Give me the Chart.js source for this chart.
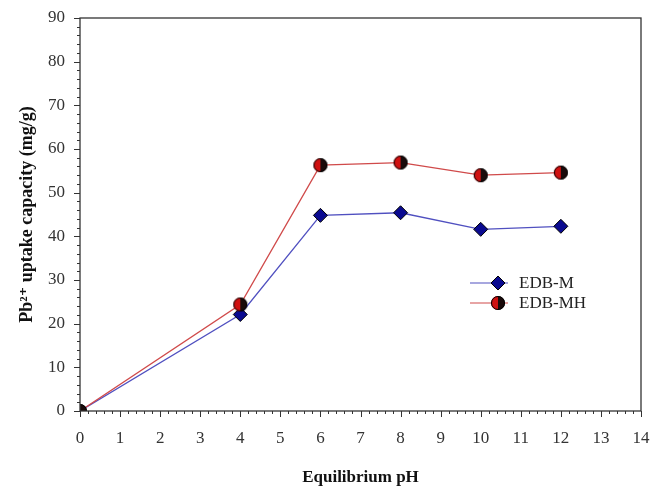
<!DOCTYPE html>
<html>
<head>
<meta charset="utf-8">
<script src="https://cdn.jsdelivr.net/npm/chart.js@4.4.0/dist/chart.umd.min.js"></script>
<style>
  html, body { margin: 0; padding: 0; background: #fff; }
</style>
</head>
<body>
<canvas id="grafikPb" width="653" height="486"></canvas>
<script>
// data
const phValues = [0, 4, 6, 8, 10, 12];
const uptakeEdbM = [0, 22.1, 44.8, 45.4, 41.6, 42.3];
const uptakeEdbMH = [0, 24.4, 56.3, 56.9, 54.0, 54.6];
const seriesLabels = ['EDB-M', 'EDB-MH'];
const xTicks = [0, 1, 2, 3, 4, 5, 6, 7, 8, 9, 10, 11, 12, 13, 14];
const yTicks = [0, 10, 20, 30, 40, 50, 60, 70, 80, 90];

const serif = "'Liberation Serif', 'DejaVu Serif', serif";
const axisColor = '#333';

// half red / half black circle marker
function halfCircle(r) {
  const c = document.createElement('canvas');
  c.width = c.height = r * 2 + 2;
  const g = c.getContext('2d');
  const m = r + 1;
  g.beginPath();
  g.arc(m, m, r, Math.PI / 2, Math.PI * 1.5);
  g.fillStyle = '#d01010';
  g.fill();
  g.beginPath();
  g.arc(m, m, r, -Math.PI / 2, Math.PI / 2);
  g.fillStyle = '#1a0a0a';
  g.fill();
  g.beginPath();
  g.arc(m, m, r - 0.5, 0, Math.PI * 2);
  g.strokeStyle = '#000';
  g.lineWidth = 1;
  g.stroke();
  return c;
}
const redDot = halfCircle(7);

function toPoints(ys) {
  return phValues.map((x, i) => ({ x: x, y: ys[i] }));
}

// outward major/minor ticks, box frame and the little legend
const extras = {
  id: 'extras',
  afterDraw(chart) {
    const ctx = chart.ctx;
    const a = chart.chartArea;
    const sx = chart.scales.x, sy = chart.scales.y;
    ctx.save();
    ctx.strokeStyle = axisColor;
    ctx.lineWidth = 1.3;
    ctx.strokeRect(a.left, a.top, a.right - a.left, a.bottom - a.top);
    ctx.lineWidth = 1;
    ctx.beginPath();
    for (let v = 0; v <= 14.001; v += 0.2) {
      const px = Math.round(sx.getPixelForValue(v)) + 0.5;
      const major = Math.abs(v - Math.round(v)) < 0.01;
      ctx.moveTo(px, a.bottom);
      ctx.lineTo(px, a.bottom + (major ? 6 : 3));
    }
    for (let v = 0; v <= 90.001; v += 2) {
      const py = Math.round(sy.getPixelForValue(v)) + 0.5;
      const major = v % 10 === 0;
      ctx.moveTo(a.left, py);
      ctx.lineTo(a.left - (major ? 6 : 3), py);
    }
    ctx.stroke();

    // legend
    const lx = 470, mx = 498, ly = [283, 303];
    chart.data.datasets.forEach((ds, i) => {
      ctx.strokeStyle = ds.borderColor;
      ctx.lineWidth = 1.2;
      ctx.beginPath();
      ctx.moveTo(lx, ly[i]);
      ctx.lineTo(lx + 38, ly[i]);
      ctx.stroke();
      if (ds.pointStyle === 'rectRot') {
        ctx.beginPath();
        ctx.moveTo(mx, ly[i] - 7);
        ctx.lineTo(mx + 7, ly[i]);
        ctx.lineTo(mx, ly[i] + 7);
        ctx.lineTo(mx - 7, ly[i]);
        ctx.closePath();
        ctx.fillStyle = ds.pointBackgroundColor;
        ctx.fill();
        ctx.strokeStyle = '#000';
        ctx.lineWidth = 1;
        ctx.stroke();
      } else {
        ctx.drawImage(ds.pointStyle, mx - 8, ly[i] - 8);
      }
      ctx.fillStyle = '#222';
      ctx.font = '17px ' + serif;
      ctx.textBaseline = 'middle';
      ctx.fillText(ds.label, lx + 49, ly[i] + 1);
    });
    ctx.restore();
  }
};

new Chart(document.getElementById('grafikPb').getContext('2d'), {
  type: 'scatter',
  data: {
    datasets: [
      {
        label: seriesLabels[0],
        data: toPoints(uptakeEdbM),
        showLine: true,
        borderColor: '#5050c0',
        borderWidth: 1.3,
        pointStyle: 'rectRot',
        pointRadius: 7,
        pointBackgroundColor: '#0a0a90',
        pointBorderColor: '#000',
        pointBorderWidth: 1,
        order: 2
      },
      {
        label: seriesLabels[1],
        data: toPoints(uptakeEdbMH),
        showLine: true,
        borderColor: '#d04a4a',
        borderWidth: 1.3,
        pointStyle: redDot,
        order: 1
      }
    ]
  },
  options: {
    responsive: false,
    animation: false,
    layout: { padding: { left: 8, top: 18, right: 12, bottom: 0 } },
    plugins: { legend: { display: false }, tooltip: { enabled: false } },
    scales: {
      x: {
        type: 'linear',
        min: 0,
        max: 14,
        afterBuildTicks: s => { s.ticks = xTicks.map(v => ({ value: v })); },
        afterFit: s => { s.height = 75; s.paddingLeft = 0; s.paddingRight = 0; },
        grid: { display: false, drawTicks: false },
        border: { display: false },
        ticks: { padding: 17, color: axisColor, font: { family: serif, size: 17 } },
        title: {
          display: true,
          text: 'Equilibrium pH',
          color: '#111',
          font: { family: serif, size: 17, weight: 'bold' },
          padding: { top: 0, bottom: -2 }
        }
      },
      y: {
        min: 0,
        max: 90,
        afterBuildTicks: s => { s.ticks = yTicks.map(v => ({ value: v })); },
        afterFit: s => { s.width = 72; s.paddingTop = 0; s.paddingBottom = 0; },
        grid: { display: false, drawTicks: false },
        border: { display: false },
        ticks: { padding: 15, color: axisColor, font: { family: serif, size: 17 } },
        title: {
          display: true,
          text: 'Pb\u00b2\u207a uptake capacity (mg/g)',
          color: '#111',
          font: { family: serif, size: 18, weight: 'bold' },
          padding: { top: 9, bottom: 0 }
        }
      }
    }
  },
  plugins: [extras]
});
</script>
</body>
</html>
